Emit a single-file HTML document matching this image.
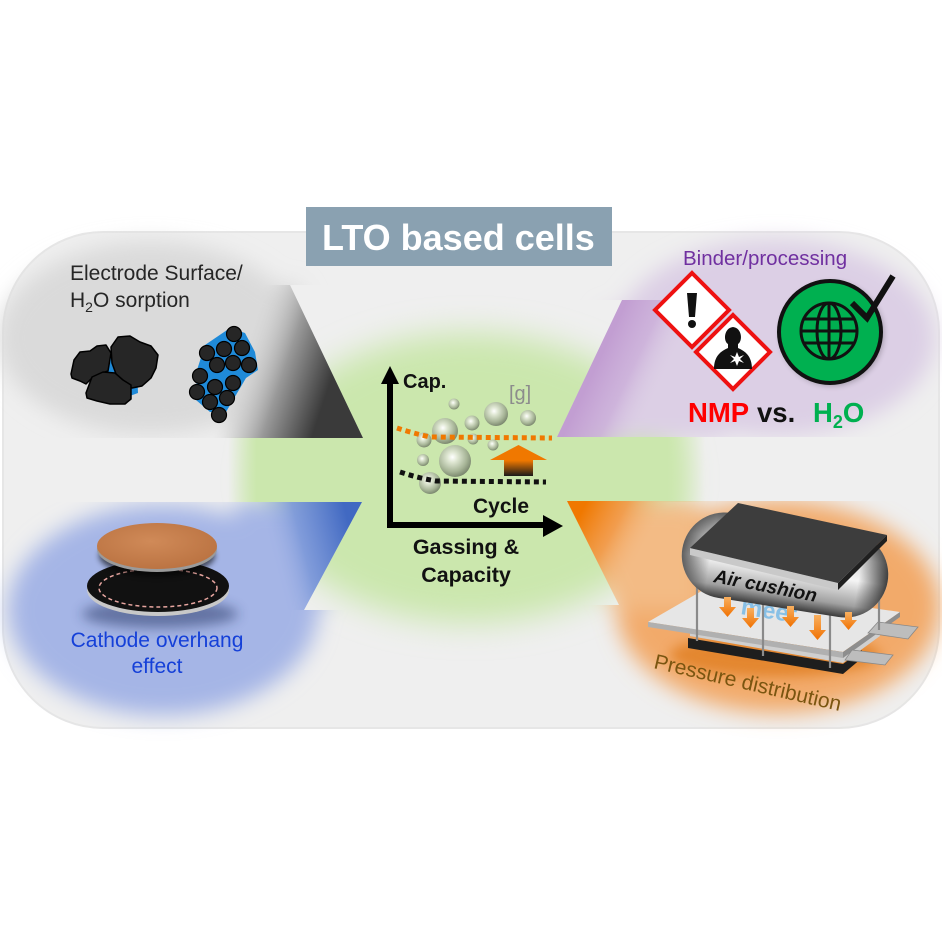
<!DOCTYPE html>
<html><head><meta charset="utf-8"><style>
html,body{margin:0;padding:0;background:#fff;}
svg{display:block;}
text{font-family:"Liberation Sans",Arial,sans-serif;}
</style></head><body>
<svg width="942" height="942" viewBox="0 0 942 942" xmlns="http://www.w3.org/2000/svg">
<defs>
<filter id="b12" x="-40%" y="-40%" width="180%" height="180%"><feGaussianBlur stdDeviation="11"/></filter>
<filter id="b16" x="-40%" y="-40%" width="180%" height="180%"><feGaussianBlur stdDeviation="16"/></filter>
<filter id="b3" x="-40%" y="-40%" width="180%" height="180%"><feGaussianBlur stdDeviation="3"/></filter>
<filter id="b6" x="-40%" y="-40%" width="180%" height="180%"><feGaussianBlur stdDeviation="6"/></filter>
<clipPath id="cG"><polygon points="-50,100 420,100 420,285 290,285 363,438 -50,438"/></clipPath>
<clipPath id="cP"><polygon points="540,100 990,100 990,437 557,437 622,300 540,300"/></clipPath>
<clipPath id="cB"><polygon points="-50,502 362,502 304,610 420,610 420,800 -50,800"/></clipPath>
<clipPath id="cO"><polygon points="567,501 990,501 990,800 540,800 540,605 619,605"/></clipPath>
<linearGradient id="band" x1="228" y1="0" x2="705" y2="0" gradientUnits="userSpaceOnUse">
<stop offset="0" stop-color="#cbe7ad" stop-opacity="0"/>
<stop offset="0.06" stop-color="#cbe7ad" stop-opacity="1"/>
<stop offset="0.92" stop-color="#cbe7ad" stop-opacity="1"/>
<stop offset="1" stop-color="#cbe7ad" stop-opacity="0"/>
</linearGradient>
<linearGradient id="gB" x1="227" y1="392" x2="317" y2="422" gradientUnits="userSpaceOnUse">
<stop offset="0" stop-color="#dcdcdc" stop-opacity="0"/>
<stop offset="0.5" stop-color="#999999" stop-opacity="1"/>
<stop offset="1" stop-color="#3a3a3a"/>
</linearGradient>
<linearGradient id="pB" x1="579" y1="402" x2="640" y2="431" gradientUnits="userSpaceOnUse">
<stop offset="0" stop-color="#c29ed2"/>
<stop offset="0.5" stop-color="#c9abd8" stop-opacity="0.75"/>
<stop offset="1" stop-color="#dccfe5" stop-opacity="0"/>
</linearGradient>
<linearGradient id="bB" x1="262" y1="522" x2="343" y2="501" gradientUnits="userSpaceOnUse">
<stop offset="0" stop-color="#a5b5e6" stop-opacity="0"/>
<stop offset="0.4" stop-color="#7a97d8" stop-opacity="0.85"/>
<stop offset="1" stop-color="#4169c2"/>
</linearGradient>
<linearGradient id="oB" x1="585" y1="505" x2="650" y2="540" gradientUnits="userSpaceOnUse">
<stop offset="0" stop-color="#f07800"/>
<stop offset="0.5" stop-color="#f29540" stop-opacity="0.8"/>
<stop offset="1" stop-color="#f3bd88" stop-opacity="0"/>
</linearGradient>
<radialGradient id="bub" cx="0.42" cy="0.38" r="0.65">
<stop offset="0" stop-color="#ffffff"/>
<stop offset="0.25" stop-color="#dfe7d3"/>
<stop offset="0.7" stop-color="#a6b496"/>
<stop offset="1" stop-color="#76826a"/>
</radialGradient>
<linearGradient id="upA" x1="0" y1="445" x2="0" y2="476" gradientUnits="userSpaceOnUse">
<stop offset="0" stop-color="#f07800"/>
<stop offset="0.5" stop-color="#f07800"/>
<stop offset="1" stop-color="#1a1a1a"/>
</linearGradient>
<radialGradient id="copper" cx="0.45" cy="0.4" r="0.7">
<stop offset="0" stop-color="#d08a58"/>
<stop offset="1" stop-color="#b8703f"/>
</radialGradient>
<linearGradient id="caps" x1="0" y1="0" x2="0" y2="1">
<stop offset="0" stop-color="#5a5a5a"/>
<stop offset="0.3" stop-color="#cfcfcf"/>
<stop offset="0.55" stop-color="#f4f4f4"/>
<stop offset="0.85" stop-color="#a0a0a0"/>
<stop offset="1" stop-color="#3a3a3a"/>
</linearGradient>
<linearGradient id="capsEnd" x1="0" y1="0" x2="1" y2="0">
<stop offset="0" stop-color="#1e1e1e" stop-opacity="0.7"/>
<stop offset="0.14" stop-color="#1e1e1e" stop-opacity="0"/>
<stop offset="0.86" stop-color="#1e1e1e" stop-opacity="0"/>
<stop offset="1" stop-color="#1e1e1e" stop-opacity="0.85"/>
</linearGradient>
<linearGradient id="oarr" x1="0" y1="0" x2="0" y2="1">
<stop offset="0" stop-color="#f9b060"/>
<stop offset="1" stop-color="#f07000"/>
</linearGradient>
</defs>

<!-- background panel -->
<rect x="3" y="232" width="936" height="496" rx="100" ry="100" fill="#efefef"/>
<rect x="3" y="232" width="936" height="496" rx="100" ry="100" fill="none" stroke="#e6e6e6" stroke-width="2"/>

<!-- green center -->
<ellipse cx="470" cy="478" rx="212" ry="145" fill="#cbe7ad" filter="url(#b16)"/>
<rect x="228" y="437" width="477" height="65" fill="url(#band)"/>

<!-- gray region + cone -->
<g clip-path="url(#cG)">
<g filter="url(#b12)">
<ellipse cx="150" cy="338" rx="152" ry="96" fill="#dadada"/>
<polygon points="225,285 298,285 375,445 235,445" fill="#dadada"/>
</g>
<polygon points="190,285 420,285 420,440 190,440" fill="url(#gB)"/>
</g>

<!-- purple region + cone -->
<g clip-path="url(#cP)">
<g filter="url(#b12)">
<ellipse cx="775" cy="338" rx="160" ry="98" fill="#dccfe5"/>
<polygon points="605,310 725,310 725,440 550,440" fill="#dccfe5"/>
</g>
<polygon points="540,300 730,300 730,440 540,440" fill="url(#pB)"/>
</g>

<!-- blue region + cone -->
<g clip-path="url(#cB)">
<g filter="url(#b12)">
<ellipse cx="163" cy="610" rx="155" ry="105" fill="#a5b5e6"/>
<polygon points="235,502 370,502 320,610 235,610" fill="#a5b5e6"/>
</g>
<polygon points="200,500 380,500 380,610 200,610" fill="url(#bB)"/>
</g>

<!-- orange region + cone -->
<g clip-path="url(#cO)">
<g filter="url(#b12)">
<ellipse cx="778" cy="607" rx="162" ry="106" fill="#f2aa6a"/>
<polygon points="565,501 700,501 700,610 615,610" fill="#f3bb85"/>
</g>
<polygon points="555,500 720,500 720,605 555,605" fill="url(#oB)"/>
</g>

<!-- title -->
<rect x="306" y="207" width="306" height="59" fill="#8aa1b1"/>
<text x="322" y="250" font-size="36" font-weight="bold" fill="#ffffff">LTO based cells</text>

<!-- top-left: electrode surface -->
<text x="70" y="280" font-size="21" fill="#262626">Electrode Surface/</text>
<text x="70" y="307" font-size="21" fill="#262626">H<tspan font-size="14" dy="5">2</tspan><tspan dy="-5">O sorption</tspan></text>
<polygon points="90,377 110,353 137,370 138,393 127,397 100,387" fill="#1f8ad8"/>
<g fill="#262626" stroke="#000" stroke-width="1.5" stroke-linejoin="round">
<polygon points="71,374 74,360 80,352 90,351 97,346 106,345 111,353 108,371 99,374 91,379 86,384 80,381 72,378"/>
<polygon points="111,347 118,337 130,336 140,342 151,346 158,355 156,368 151,378 142,386 132,388 121,381 116,374 112,363"/>
<polygon points="86,393 92,377 103,372 115,373 123,380 131,385 131,399 125,404 110,404 97,401 87,398"/>
</g>
<polygon points="205,345 230,328 245,333 255,352 258,370 246,378 236,395 226,412 210,412 196,400 197,370" fill="#1f8ad8"/>
<g fill="#262626" stroke="#000" stroke-width="1.2">
<circle cx="234" cy="334" r="7.5"/><circle cx="207" cy="353" r="7.5"/><circle cx="224" cy="349" r="7.5"/>
<circle cx="242" cy="348" r="7.5"/><circle cx="217" cy="365" r="7.5"/><circle cx="233" cy="363" r="7.5"/>
<circle cx="249" cy="365" r="7.5"/><circle cx="200" cy="376" r="7.5"/><circle cx="215" cy="387" r="7.5"/>
<circle cx="233" cy="383" r="7.5"/><circle cx="197" cy="392" r="7.5"/><circle cx="210" cy="402" r="7.5"/>
<circle cx="227" cy="398" r="7.5"/><circle cx="219" cy="415" r="7.5"/>
</g>

<!-- top-right: binder -->
<text x="683" y="265" font-size="20.5" fill="#7030a0">Binder/processing</text>
<polygon points="692,273 729,310 692,347 655,310" fill="#fff" stroke="#ee1111" stroke-width="4" stroke-linejoin="miter"/>
<path d="M687,293 L697,293 L695,317 L689,317 Z" fill="#111"/>
<circle cx="692" cy="324" r="4" fill="#111"/>
<polygon points="733,315 770,352 733,389 696,352" fill="#fff" stroke="#ee1111" stroke-width="4"/>
<path d="M714,369 C714,356 721,351 728,348 L728,344 C723,341 724,328 733,327 C742,328 743,341 738,344 L738,348 C745,351 752,356 752,369 Z" fill="#111"/>
<polygon points="737,352 739,357 744,355 740,359 744,363 739,361 737,366 735,361 730,363 734,359 730,355 735,357" fill="#fff"/>
<circle cx="832" cy="334" r="52" fill="#000" opacity="0.25" filter="url(#b3)"/>
<circle cx="830" cy="332" r="51" fill="#00b050" stroke="#111" stroke-width="4"/>
<g fill="none" stroke="#111" stroke-width="3">
<circle cx="829" cy="331" r="28"/>
<ellipse cx="829" cy="331" rx="12" ry="28"/>
<line x1="829" y1="303" x2="829" y2="359"/>
<line x1="801" y1="331" x2="857" y2="331"/>
<line x1="804" y1="319" x2="854" y2="319"/>
<line x1="804" y1="343" x2="854" y2="343"/>
</g>
<polyline points="852,303 867,318 893,276" fill="none" stroke="#111" stroke-width="6" stroke-linejoin="miter"/>
<text x="688" y="422" font-size="27.5" font-weight="bold" fill="#ff0000">NMP</text>
<text x="757" y="422" font-size="27.5" font-weight="bold" fill="#111">vs.</text>
<text x="813" y="422" font-size="27.5" font-weight="bold" fill="#00b050">H<tspan font-size="18" dy="6">2</tspan><tspan dy="-6">O</tspan></text>

<!-- center graph -->
<g>
<circle cx="454" cy="404" r="5.5" fill="url(#bub)"/>
<circle cx="496" cy="414" r="12" fill="url(#bub)"/>
<circle cx="528" cy="418" r="8" fill="url(#bub)"/>
<circle cx="445" cy="431" r="13" fill="url(#bub)"/>
<circle cx="472" cy="423" r="7.5" fill="url(#bub)"/>
<circle cx="424" cy="440" r="7.5" fill="url(#bub)"/>
<circle cx="473" cy="439" r="5.5" fill="url(#bub)"/>
<circle cx="493" cy="445" r="5.5" fill="url(#bub)"/>
<circle cx="423" cy="460" r="6" fill="url(#bub)"/>
<circle cx="455" cy="461" r="16" fill="url(#bub)"/>
<circle cx="430" cy="483" r="11" fill="url(#bub)"/>
</g>
<path d="M397,428 Q412,433 430,437 L552,438" fill="none" stroke="#f07800" stroke-width="5" stroke-dasharray="5 4"/>
<path d="M400,472 Q418,478 436,481 L546,482" fill="none" stroke="#111" stroke-width="5" stroke-dasharray="5 4"/>
<polygon points="490,460 518.5,445 547,460" fill="#f07800"/>
<rect x="504" y="459" width="29" height="17" fill="url(#upA)"/>
<rect x="387" y="380" width="6" height="148" fill="#000"/>
<polygon points="381,384 399,384 390,366" fill="#000"/>
<rect x="387" y="522" width="158" height="6" fill="#000"/>
<polygon points="543,515 543,537 563,526" fill="#000"/>
<text x="403" y="388" font-size="20" font-weight="bold" fill="#111">Cap.</text>
<text x="509" y="400" font-size="20" fill="#8c8c8c">[g]</text>
<text x="473" y="513" font-size="21" font-weight="bold" fill="#111">Cycle</text>
<text x="466" y="554" font-size="21.5" font-weight="bold" fill="#111" text-anchor="middle">Gassing &amp;</text>
<text x="466" y="582" font-size="21.5" font-weight="bold" fill="#111" text-anchor="middle">Capacity</text>

<!-- bottom-left: cathode overhang -->
<ellipse cx="160" cy="614" rx="78" ry="14" fill="#203060" opacity="0.5" filter="url(#b6)"/>
<ellipse cx="158" cy="590" rx="71" ry="26" fill="#c8c8c8"/>
<ellipse cx="158" cy="586" rx="71" ry="26" fill="#111"/>
<ellipse cx="158" cy="588" rx="59" ry="19" fill="none" stroke="#e8a6a0" stroke-width="1.5" stroke-dasharray="4 3"/>
<ellipse cx="157" cy="556" rx="58" ry="20" fill="#000" opacity="0.6" filter="url(#b3)"/>
<ellipse cx="157" cy="549" rx="60" ry="23" fill="#9a9a9a"/>
<ellipse cx="157" cy="546" rx="60" ry="23" fill="url(#copper)"/>
<text x="157" y="647" font-size="21" fill="#1540d8" text-anchor="middle">Cathode overhang</text>
<text x="157" y="673" font-size="21" fill="#1540d8" text-anchor="middle">effect</text>

<!-- bottom-right: pressure distribution -->
<ellipse cx="775" cy="655" rx="105" ry="22" fill="#d86a00" opacity="0.55" filter="url(#b6)"/>
<polygon points="688,638 843,664 862,650 862,658 843,674 688,648" fill="#1e1e1e"/>
<polygon points="690,628 843,656 880,630 880,636 843,663 690,636" fill="#cfcfcf"/>
<polygon points="648,622 712,585 900,612 843,652" fill="#e6e6e6"/>
<polygon points="648,622 843,652 843,658 648,627" fill="#b0b0b0"/>
<polygon points="843,652 900,612 900,617 843,658" fill="#8e8e8e"/>
<polygon points="878,622 918,627 908,639 868,633" fill="#bdbdbd" stroke="#888" stroke-width="0.8"/>
<polygon points="852,650 893,655 885,665 845,660" fill="#bdbdbd" stroke="#888" stroke-width="0.8"/>
<text x="0" y="0" font-size="24" font-weight="bold" fill="#4aa8e6" opacity="0.6" transform="translate(740,614) rotate(9)">meet</text>
<g stroke="#8a8a8a" stroke-width="2.2">
<line x1="697" y1="556" x2="697" y2="641"/>
<line x1="763" y1="572" x2="763" y2="656"/>
<line x1="830" y1="588" x2="830" y2="668"/>
<line x1="879" y1="590" x2="879" y2="630"/>
</g>
<g transform="translate(785,565) rotate(9)">
<rect x="-104" y="-43" width="208" height="86" rx="43" fill="url(#caps)"/>
<rect x="-104" y="-43" width="208" height="86" rx="43" fill="url(#capsEnd)"/>
</g>
<g fill="url(#oarr)">
<path d="M724,597 h7 v10 h5 l-8.5,10 l-8.5,-10 h5 z"/>
<path d="M747,608 h7 v10 h5 l-8.5,10 l-8.5,-10 h5 z"/>
<path d="M787,606 h7 v11 h5 l-8.5,10 l-8.5,-10 h5 z"/>
<path d="M814,615 h7 v15 h5 l-8.5,10 l-8.5,-10 h5 z"/>
<path d="M845,612 h7 v8 h5 l-8.5,10 l-8.5,-10 h5 z"/>
</g>
<polygon points="690,548 838,583 838,590 690,555" fill="#c9c9c9"/>
<polygon points="838,583 887,535 887,541 838,590" fill="#1f1f1f"/>
<polygon points="690,548 738,503 887,535 838,583" fill="#3d3d3d"/>
<text x="0" y="0" font-size="19" font-weight="bold" font-style="italic" fill="#111" transform="translate(713,582) rotate(11)">Air cushion</text>
<text x="0" y="0" font-size="21" fill="#7a5510" transform="translate(653,668) rotate(13)">Pressure distribution</text>
</svg>
</body></html>
